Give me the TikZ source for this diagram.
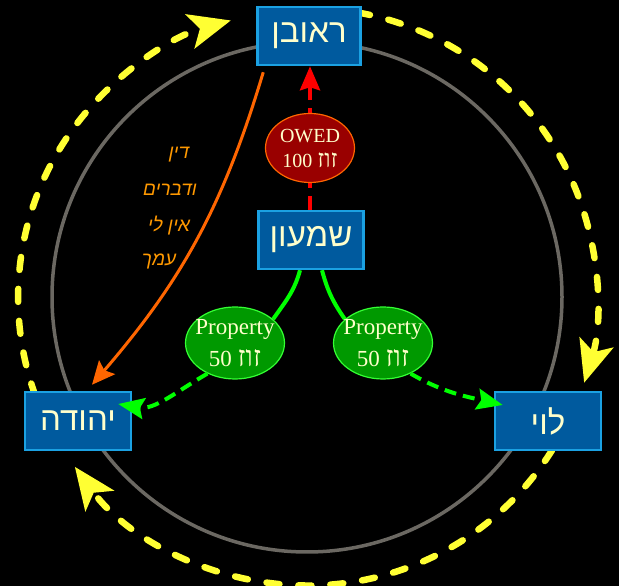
\documentclass[tikz,border=0pt]{standalone}
\usepackage{fontspec}
\setmainfont{Liberation Serif}
\newfontfamily\hebsans[Script=Hebrew]{Liberation Sans}
\newfontfamily\hebserif[Script=Hebrew]{Liberation Serif}
\newfontfamily\hebbig[Script=Hebrew,Scale=1.25]{Liberation Serif}
\newfontfamily\hebhand[Script=Hebrew,FakeSlant=0.2]{Liberation Sans}
\TeXXeTstate=1
\usetikzlibrary{arrows.meta,shapes.geometric,calc}
\pgfdeclarelayer{backdrop}
\pgfdeclarelayer{bg}
\pgfsetlayers{backdrop,bg,main}

\definecolor{boxfill}{HTML}{005A9E}
\definecolor{boxline}{HTML}{1BA1E2}
\definecolor{cream}{HTML}{FFFFCC}
\definecolor{owedfill}{HTML}{990000}
\definecolor{owedline}{HTML}{FF6600}
\definecolor{propfill}{HTML}{009900}
\definecolor{propline}{HTML}{33FF33}
\definecolor{greenln}{HTML}{00FF00}
\definecolor{ringgray}{HTML}{6B6862}
\definecolor{cycyellow}{HTML}{FFFF33}
\definecolor{orangeln}{HTML}{FF6600}
\definecolor{handorange}{HTML}{FF9900}

\begin{document}
\begin{tikzpicture}[x=1pt,y=1pt,
  namebox/.style={draw=boxline, fill=boxfill, line width=2.5pt,
    minimum width=103pt, minimum height=58pt, inner sep=0pt, text=cream,
    font=\hebsans\fontsize{33}{38}\selectfont},
  owedell/.style={ellipse, draw=owedline, fill=owedfill, line width=1.2pt,
    minimum width=89pt, minimum height=69pt, inner xsep=-14pt, inner ysep=-10pt, text=cream,
    align=center, font=\hebserif\fontsize{20}{25}\selectfont},
  propell/.style={ellipse, draw=propline, fill=propfill, line width=1.2pt,
    minimum width=99pt, minimum height=72pt, inner xsep=-16pt, inner ysep=-10pt, text=cream,
    align=center, font=\hebserif\fontsize{23}{32}\selectfont},
  hand/.style={text=handorange, inner sep=0pt, font=\hebhand\fontsize{19}{21}\selectfont},
  ring/.style={draw=ringgray, line width=3.5pt},
  cyclearc/.style={draw=cycyellow, line width=6.5pt, line cap=round,
    dash pattern=on 13pt off 19pt,
    -{Stealth[length=42pt,width=35pt,inset=10pt]}},
  redarrow/.style={draw=red, line width=4pt, dash pattern=on 14pt off 8pt,
    -{Stealth[length=24pt,width=20pt,inset=3pt]}},
  greensolid/.style={draw=greenln, line width=4pt},
  greendash/.style={draw=greenln, line width=4pt, dash pattern=on 12pt off 7pt,
    -{Stealth[length=26pt,width=21pt,inset=4pt]}},
  orangearrow/.style={draw=orangeln, line width=3pt,
    -{Stealth[length=23pt,width=21pt,inset=4pt]}}
]
\useasboundingbox (0,0) rectangle (619,586);
\begin{pgfonlayer}{backdrop}
  \fill[black] (0,0) rectangle (619,586);
\end{pgfonlayer}

% nodes
\node[namebox] (reuven) at (309,550) {\beginR ראובן\endR};
\node[namebox, minimum width=105pt] (shimon) at (311,346) {\beginR שמעון\endR};
\node[namebox, minimum width=106pt] (yehuda) at (78,165) {\beginR יהודה\endR};
\node[namebox, minimum width=106pt] (levi) at (548,165) {\beginR לוי\endR};
\node[owedell] (owed) at (310,438) {OWED\\100 {\hebbig\beginR זוז\endR}};
\node[propell] (prop1) at (235,243) {Property\\50 {\hebbig\beginR זוז\endR}};
\node[propell] (prop2) at (383,243) {Property\\50 {\hebbig\beginR זוז\endR}};

\node[hand] (h1) at (178,431) {\beginR דין\endR};
\node[hand] (h2) at (169,396) {\beginR ודברים\endR};
\node[hand] (h3) at (168,360) {\beginR אין לי\endR};
\node[hand] (h4) at (158,324) {\beginR עמך\endR};

\begin{pgfonlayer}{bg}
  \coordinate (ctr) at (307,289);
  \draw[ring] (ctr) circle[radius=255];
  \draw[cyclearc] ([shift={(200:289)}]ctr) arc[start angle=200, end angle=105, radius=287];
  \draw[cyclearc] ([shift={(80:289)}]ctr) arc[start angle=80, end angle=-17, radius=290];
  \draw[cyclearc] ([shift={(-32:289)}]ctr) arc[start angle=-32, end angle=-144, radius=288];
  \draw[redarrow] (shimon.north -| owed) -- (reuven.south -| owed);
  \draw[greensolid] ([xshift=-11pt]shimon.south) to[out=-105,in=55] (prop1.32);
  \draw[greensolid] ([xshift=11pt]shimon.south) to[out=-75,in=125] (prop2.148);
\end{pgfonlayer}

\draw[greendash] (prop1.-132) to[out=-150,in=-10] ($(yehuda.east)+(-14,17)$);
\draw[greendash] (prop2.-48) to[out=-30,in=167] ($(levi.west)+(9,16)$);
\draw[orangearrow] ([xshift=7pt,yshift=-6pt]reuven.south west) to[bend left=12] ([xshift=14pt,yshift=6pt]yehuda.north);
\end{tikzpicture}
\end{document}
